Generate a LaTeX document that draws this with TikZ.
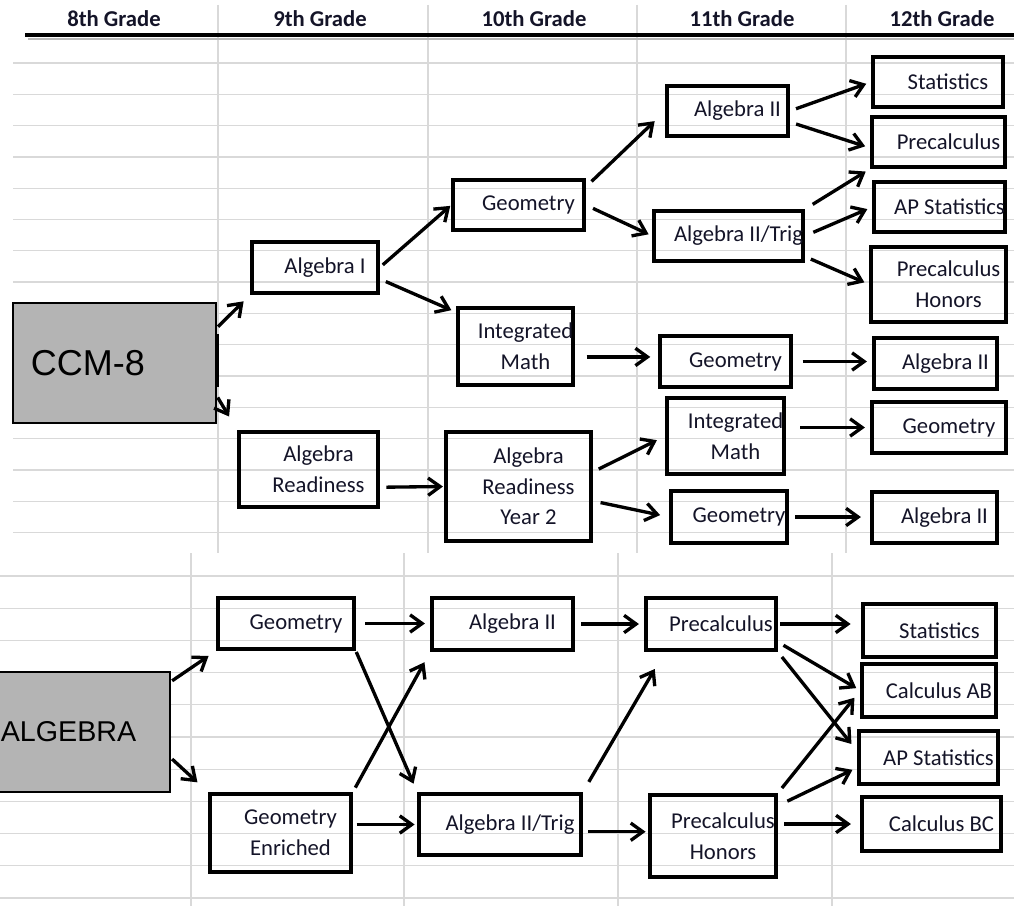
\documentclass[tikz,border=0pt]{standalone}
\usepackage{fontspec}
\setmainfont{Carlito}
\newfontfamily\arialfont{Liberation Sans}
\usetikzlibrary{arrows.meta}
\definecolor{cellgray}{RGB}{217,217,217}
\definecolor{boxgray}{RGB}{180,180,180}
\definecolor{inkblue}{RGB}{20,20,40}

\tikzset{
    grid line/.style={cellgray, line width=1pt},
    course/.style 2 args={draw, line width=2.6pt, minimum width=#1*0.75pt, minimum height=#2*0.75pt, inner sep=0pt},
    startbox/.style 2 args={draw, line width=1.6pt, fill=boxgray, minimum width=#1*0.75pt, minimum height=#2*0.75pt, inner sep=0pt},
    lbl/.style={font=\fontsize{17}{23}\selectfont, align=center, inner sep=0pt, xshift=7.5pt, text=inkblue},
    bigtxt/.style={font=\arialfont\fontsize{#1}{#1}\selectfont, inner sep=0pt},
    head/.style={font=\bfseries\fontsize{17}{20}\selectfont, anchor=base, text=inkblue},
    arr/.style={-{Straight Barb[length=9pt,width=13pt]}, line width=2.5pt, shorten >=4pt, shorten <=5pt},
}

\begin{document}
\begin{tikzpicture}[x=0.75pt,y=-0.75pt]
    \clip (0,0) rectangle (1014,906);
    % spreadsheet cells
    \foreach \k in {0,...,15} \draw[grid line] (13,{63+31.3*\k}) -- (1014,{63+31.3*\k});
    \foreach \x in {218,428,637,846} \draw[grid line] (\x,5) -- (\x,553);
    \foreach \k in {0,...,10} \draw[grid line] (0,{576+32.2*\k}) -- (1014,{576+32.2*\k});
    \foreach \x in {191,404,618,832} \draw[grid line] (\x,553) -- (\x,906);
    % header
    \node[head] (h8) at (114,27) {8th Grade};
    \node[head] (h9) at (320,27) {9th Grade};
    \node[head] (h10) at (534,27) {10th Grade};
    \node[head] (h11) at (742,27) {11th Grade};
    \node[head] (h12) at (942,27) {12th Grade};
    \draw[gray!55, line width=2pt] (28,39) -- (1014,39);
    \draw[line width=3pt] (25,35) -- (1014,35);

    % CCM-8
    \node[startbox={203}{120}, label={[bigtxt=27, xshift=-20pt]center:CCM-8}] (ccm) at (114.5,363) {};
    \draw[line width=3pt] (217,334) -- (217,387);
    \node[course={126}{51}, label={[lbl]center:Algebra I}] (algI) at (315,267.5) {};
    \node[course={139}{75}, label={[lbl]center:Algebra\\Readiness}] (algRead) at (308.5,469.5) {};
    \node[course={131}{50}, label={[lbl]center:Geometry}] (geoT) at (518.5,205) {};
    \node[course={115}{77}, label={[lbl]center:Integrated\\Math}] (intT) at (515.5,346.5) {};
    \node[course={145}{109}, label={[lbl]center:Algebra\\Readiness\\Year 2}] (readY) at (518.5,486.5) {};
    \node[course={121}{50}, label={[lbl]center:Algebra II}] (algIIT) at (727.5,111) {};
    \node[course={149}{50}, label={[lbl]center:Algebra II/Trig}] (trigT) at (728.5,236) {};
    \node[course={131}{51}, label={[lbl]center:Geometry}] (geoM) at (725.5,361.5) {};
    \node[course={117}{76}, label={[lbl]center:Integrated\\Math}] (intL) at (725.5,436) {};
    \node[course={116}{52}, label={[lbl]center:Geometry}] (geoB) at (729,517) {};
    \node[course={130}{50}, label={[lbl]center:Statistics}] (statT) at (938,82) {};
    \node[course={133}{50}, label={[lbl]center:Precalculus}] (precT) at (938.5,142) {};
    \node[course={131}{50}, label={[lbl]center:AP Statistics}] (apT) at (939.5,207) {};
    \node[course={135}{75}, label={[lbl]center:Precalculus\\Honors}] (precH) at (938.5,284.5) {};
    \node[course={123}{51}, label={[lbl]center:Algebra II}] (algIIM) at (935.5,363.5) {};
    \node[course={134}{51}, label={[lbl]center:Geometry}] (geoL) at (939,427.5) {};
    \node[course={125}{51}, label={[lbl]center:Algebra II}] (algIIB) at (934.5,517.5) {};

    \draw[arr, shorten <=1pt, shorten >=7pt] (ccm.19) -- (algI.south west);
    \draw[arr, shorten <=1pt, shorten >=12pt] (ccm.-18) -- (algRead.north west);
    \draw[arr, shorten <=3pt, shorten >=1pt] (algI.east) -- (geoT.west);
    \draw[arr] (algI.-10) -- (intT.150);
    \draw[arr, shorten >=1pt] (algRead.-14) -- (readY.west);
    \draw[arr, shorten <=6pt, shorten >=11pt] (geoT.15) -- (algIIT.west);
    \draw[arr, shorten <=6pt, shorten >=3pt] (geoT.east) -- (trigT.west);
    \draw[arr] (algIIT.east) -- (statT.west);
    \draw[arr] (algIIT.-10) -- (precT.185);
    \draw[arr, shorten <=7pt] (trigT.north east) -- (precT.south west);
    \draw[arr, shorten <=7pt] (trigT.east) -- (apT.west);
    \draw[arr] (trigT.-15) -- (precH.west);
    \draw[arr, shorten <=9pt, shorten >=6pt] (intT.-10) -- (intT.-10 -| geoM.west);
    \draw[arr, shorten <=7.5pt] (geoM.east) -- (geoM.east -| algIIM.west);
    \draw[arr, shorten <=11pt] (geoL.west -| intL.east) -- (geoL.west);
    \draw[arr, shorten >=7pt] (readY.11) -- (intL.west);
    \draw[arr, shorten <=6pt, shorten >=7pt] (readY.-11) -- (geoB.west);
    \draw[arr, shorten >=7pt] (geoB.east) -- (geoB.east -| algIIB.west);

    % ALGEBRA
    \node[startbox={180}{120}, label={[bigtxt=21.5, xshift=-8.6pt]center:ALGEBRA}] (alg) at (80,732) {};
    \node[course={136}{51}, label={[lbl]center:Geometry}] (geoA) at (286,623.5) {};
    \node[course={141}{78}, label={[lbl]center:Geometry\\Enriched}] (geoE) at (280.5,833) {};
    \node[course={141}{52}, label={[lbl]center:Algebra II}] (algIIA) at (502.5,624) {};
    \node[course={162}{61}, label={[lbl]center:Algebra II/Trig}] (trigA) at (500,824.5) {};
    \node[course={130}{52}, label={[lbl]center:Precalculus}] (precA) at (711,624) {};
    \node[course={126}{82}, label={[lbl]center:Precalculus\\Honors}] (precHA) at (713,836) {};
    \node[course={133}{53}, label={[lbl]center:Statistics}] (statA) at (929.5,630.5) {};
    \node[course={134}{53}, label={[lbl]center:Calculus AB}] (calcAB) at (929,690.5) {};
    \node[course={139}{53}, label={[lbl]center:AP Statistics}] (apA) at (928.5,757.5) {};
    \node[course={139}{54}, label={[lbl]center:Calculus BC}] (calcBC) at (931.5,824) {};

    \draw[arr, shorten <=1pt, shorten >=7pt] (alg.29) -- (geoA.south west);
    \draw[arr, shorten <=1pt, shorten >=11pt] (alg.-16) -- (geoE.north west);
    \draw[arr, shorten <=7pt] (geoA.east) -- (geoA.east -| algIIA.west);
    \draw[arr, shorten <=1pt, shorten >=7pt] (geoA.south east) -- (trigA.north west);
    \draw[arr, shorten <=4pt, shorten >=9pt] (geoE.north east) -- (algIIA.south west);
    \draw[arr, shorten <=3pt, shorten >=2pt] (trigA.west -| geoE.east) -- (trigA.west);
    \draw[arr] (algIIA.east) -- (algIIA.east -| precA.west);
    \draw[arr, shorten <=9pt, shorten >=15pt] (trigA.north east) -- (precA.211);
    \draw[arr, shorten <=4pt, shorten >=2pt] (trigA.-5) -- (trigA.-5 -| precHA.west);
    \draw[arr, shorten <=2pt, shorten >=8pt] (precA.east) -- (precA.east -| statA.west);
    \draw[arr, shorten >=3.5pt] (precA.-15) -- (calcAB.west);
    \draw[arr, shorten >=7pt] (precA.south east) -- (apA.175);
    \draw[arr, shorten >=7pt] (precHA.north east) -- (calcAB.west);
    \draw[arr, shorten <=8pt] (precHA.25) -- (apA.188);
    \draw[arr, shorten >=7pt] (calcBC.west -| precHA.east) -- (calcBC.west);
\end{tikzpicture}
\end{document}
